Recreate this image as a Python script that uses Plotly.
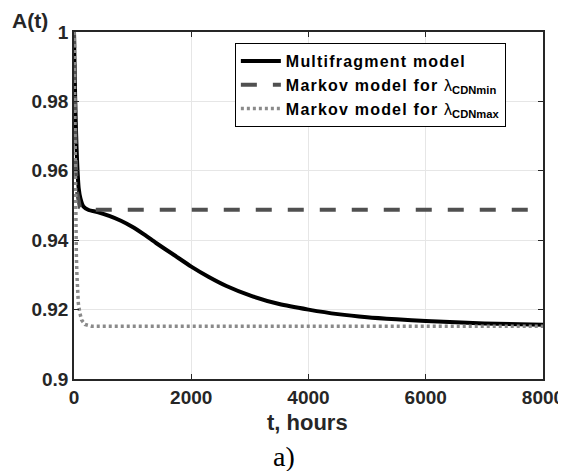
import plotly.graph_objects as go

# Multifragment model
t_multi = [0, 10, 20, 30, 45, 60, 80, 110, 160, 250, 400, 600, 800, 1000, 1200, 1400,
           1700, 2000, 2300, 2600, 3000, 3500, 4000, 4500, 5000, 5500, 6000, 7000, 8000]
a_multi = [1.0, 0.99, 0.981, 0.974, 0.966, 0.960, 0.955, 0.952, 0.9497, 0.9487, 0.9481,
           0.9470, 0.9456, 0.9438, 0.9416, 0.9392, 0.9358, 0.9324, 0.9294, 0.9268,
           0.9241, 0.9216, 0.9200, 0.9187, 0.9178, 0.9172, 0.9167, 0.9160, 0.9156]

# Markov model for lambda CDNmin
t_min = [0, 10, 20, 35, 50, 75, 100, 150, 200, 8000]
a_min = [1.0, 0.985, 0.972, 0.960, 0.954, 0.951, 0.9495, 0.9490, 0.9488, 0.9488]

# Markov model for lambda CDNmax
t_max = [0, 10, 25, 40, 50, 74, 100, 130, 188, 300, 8000]
a_max = [1.0, 0.975, 0.950, 0.936, 0.930, 0.9218, 0.919, 0.917, 0.9157, 0.9152, 0.9152]

x_ticks = [0, 2000, 4000, 6000, 8000]
x_labels = ["0", "2000", "4000", "6000", "8000"]
y_ticks = [0.9, 0.92, 0.94, 0.96, 0.98, 1.0]
y_labels = ["0.9", "0.92", "0.94", "0.96", "0.98", "1"]

FONT = "Liberation Sans, Arial, sans-serif"
TXT = "#262626"
SP = '<span style="letter-spacing:1.2px">'
LAM = '<span style="font-weight:normal">λ</span>'

fig = go.Figure()
fig.add_trace(go.Scatter(x=t_multi, y=a_multi, mode="lines",
                         name=SP + "Multifragment model</span>",
                         line=dict(color="black", width=4, shape="spline", smoothing=0.6)))
fig.add_trace(go.Scatter(x=t_min, y=a_min, mode="lines",
                         name=SP + "Markov model for </span>" + LAM + "<sub>CDNmin</sub>",
                         line=dict(color="#505050", width=4, dash="16px,16px")))
fig.add_trace(go.Scatter(x=t_max, y=a_max, mode="lines",
                         name=SP + "Markov model for </span>" + LAM + "<sub>CDNmax</sub>",
                         line=dict(color="#8a8a8a", width=3.5, dash="3px,3px")))

fig.update_layout(
    width=558, height=463,
    margin=dict(l=66, r=23, t=24, b=92),
    paper_bgcolor="white", plot_bgcolor="white",
    font=dict(family=FONT, color=TXT),
    legend=dict(x=0.343, y=0.968, xanchor="left", yanchor="top",
                bordercolor="black", borderwidth=1, bgcolor="white",
                font=dict(family=FONT, size=16, color="black", weight="bold"),
                tracegroupgap=0, itemwidth=40),
    xaxis=dict(range=[0, 8000], tickvals=x_ticks, ticktext=x_labels,
               showgrid=True, gridcolor="#e6e6e6", gridwidth=1,
               showline=True, linecolor=TXT, linewidth=1.5, mirror="ticks",
               ticks="inside", ticklen=5, tickcolor=TXT,
               tickfont=dict(family=FONT, size=19, weight="bold", color=TXT),
               zeroline=False, automargin=False),
    yaxis=dict(range=[0.9, 1.0], tickvals=y_ticks, ticktext=y_labels,
               showgrid=True, gridcolor="#e6e6e6", gridwidth=1,
               showline=True, linecolor=TXT, linewidth=1.5, mirror="ticks",
               ticks="inside", ticklen=5, tickcolor=TXT,
               tickfont=dict(family=FONT, size=19, weight="bold", color=TXT),
               zeroline=False, automargin=False),
    showlegend=True,
)

fig.add_annotation(text="A(t)", xref="paper", yref="paper", x=-0.094, y=1.032,
                   xanchor="center", yanchor="middle", showarrow=False,
                   font=dict(family=FONT, size=21, weight="bold", color=TXT))
fig.add_annotation(text="t, hours", xref="paper", yref="paper", x=0.498, y=-0.124,
                   xanchor="center", yanchor="middle", showarrow=False,
                   font=dict(family=FONT, size=22, weight="bold", color=TXT))
fig.add_annotation(text="a)", xref="paper", yref="paper", x=0.447, y=-0.222,
                   xanchor="center", yanchor="middle", showarrow=False,
                   font=dict(family="Liberation Serif, Times New Roman, serif", size=28,
                             color="black"))

fig.write_html("out.html")
